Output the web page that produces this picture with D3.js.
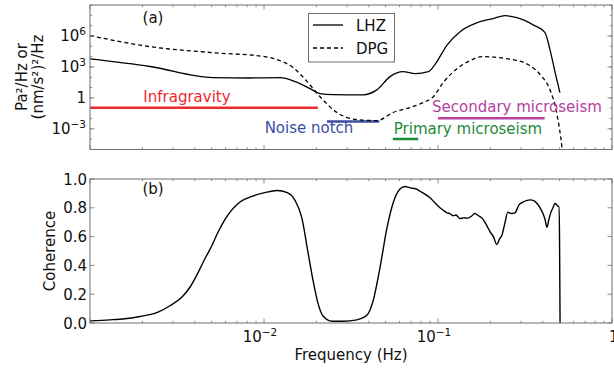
<!DOCTYPE html>
<html>
<head>
<meta charset="utf-8">
<script src="https://cdn.jsdelivr.net/npm/d3@7/dist/d3.min.js"></script>
<style>
  html, body { margin: 0; padding: 0; background: #fff; }
  svg { display: block; font-family: "DejaVu Sans", sans-serif; }
</style>
</head>
<body>
<svg id="chart" width="614" height="368"></svg>
<script>
// Power spectral densities (frequency in Hz, PSD in Pa^2/Hz or (nm/s^2)^2/Hz)
const lhzFreq = [0.001, 0.00221, 0.00509, 0.0083, 0.0124, 0.0151, 0.0184, 0.021, 0.025, 0.0371, 0.0447, 0.053, 0.063, 0.074, 0.088, 0.096, 0.113, 0.134, 0.168, 0.207, 0.243, 0.284, 0.352, 0.412, 0.44, 0.477, 0.502];
const lhzPsd  = [6.0e3, 1.1e3, 93, 85, 93, 38, 8, 2.6, 2.1, 1.95, 6.3, 115, 350, 225, 350, 1.7e3, 1.4e5, 2.6e6, 1.9e7, 4.8e7, 9.3e7, 5.9e7, 1.2e7, 2.1e6, 4.8e4, 115, 3.3];

const dpgFreq = [0.001, 0.00221, 0.00509, 0.0101, 0.0119, 0.0147, 0.0177, 0.021, 0.0263, 0.0342, 0.0447, 0.055, 0.069, 0.082, 0.094, 0.107, 0.129, 0.153, 0.179, 0.249, 0.329, 0.391, 0.44, 0.483, 0.516, 0.53];
const dpgPsd  = [1.07e6, 9.3e4, 2.4e4, 1.0e4, 5.1e3, 860, 38, 1.3, 0.038, 7.9e-3, 6.3e-3, 0.038, 0.115, 0.35, 1.3, 30, 690, 4.1e3, 1.0e4, 6.3e3, 1.7e3, 144, 6.3, 0.025, 1.3e-5, 1e-7];

// Coherence between LHZ and DPG
const cohFreq = [0.001, 0.0013, 0.00159, 0.00194, 0.00246, 0.00288, 0.00338, 0.00376, 0.00418, 0.00459, 0.00503, 0.00544, 0.00597, 0.0071, 0.00854, 0.0101, 0.0119, 0.0136, 0.0151, 0.0165, 0.0179, 0.0191, 0.0204, 0.0218, 0.0246, 0.0285, 0.0342, 0.0391, 0.0423, 0.0465, 0.0509, 0.0551, 0.0605, 0.0646, 0.0685, 0.0718, 0.0755, 0.0788, 0.084, 0.09, 0.096, 0.1026, 0.108, 0.1127, 0.117, 0.122, 0.127, 0.1337, 0.14, 0.147, 0.155, 0.163, 0.171, 0.1815, 0.19, 0.199, 0.208, 0.218, 0.225, 0.233, 0.242, 0.252, 0.264, 0.277, 0.292, 0.308, 0.322, 0.338, 0.355, 0.371, 0.386, 0.401, 0.412, 0.423, 0.434, 0.446, 0.458, 0.47, 0.482, 0.49, 0.497, 0.5, 0.503];
const cohVal  = [0.015, 0.022, 0.03, 0.045, 0.075, 0.12, 0.18, 0.25, 0.35, 0.45, 0.54, 0.63, 0.72, 0.83, 0.88, 0.905, 0.92, 0.905, 0.85, 0.73, 0.49, 0.30, 0.14, 0.05, 0.012, 0.012, 0.022, 0.055, 0.15, 0.39, 0.66, 0.83, 0.93, 0.948, 0.94, 0.935, 0.93, 0.915, 0.895, 0.87, 0.835, 0.80, 0.78, 0.765, 0.76, 0.745, 0.75, 0.725, 0.73, 0.728, 0.74, 0.76, 0.745, 0.72, 0.68, 0.635, 0.60, 0.545, 0.58, 0.61, 0.69, 0.77, 0.76, 0.765, 0.82, 0.84, 0.85, 0.855, 0.85, 0.83, 0.8, 0.76, 0.72, 0.665, 0.72, 0.77, 0.8, 0.83, 0.82, 0.81, 0.81, 0.50, 0.0];

// Frequency bands: [label, fmin, fmax, level, colour]
const bandNames  = ["Infragravity", "Noise notch", "Primary microseism", "Secondary microseism"];
const bandFmin   = [0.001, 0.023, 0.055, 0.1];
const bandFmax   = [0.0204, 0.046, 0.077, 0.41];
const bandLevel  = [0.11, 5.2e-3, 1.05e-4, 0.0105];
const bandColors = ["#ee2a2f", "#3b4ea6", "#1f8a3a", "#b3429e"];

const xTickLabels = ["−2", "−1", "0"];
const yTopLabels  = [["10", "−3"], ["1", ""], ["10", "3"], ["10", "6"]];
const yBotLabels  = ["0.0", "0.2", "0.4", "0.6", "0.8", "1.0"];

const svg = d3.select("#chart");
const L = 90, R = 612;
const topP = { t: 5, b: 149.5 };
const botP = { t: 179, b: 323 };
const frameColor = "#6e6e6e";
const fs = 15;

const x = d3.scaleLog().domain([1e-3, 1]).range([L, R]);
const yTop = d3.scaleLog().domain([1e-5, 1e9]).range([topP.b, topP.t]);
const yBot = d3.scaleLinear().domain([0, 1]).range([botP.b, botP.t]);

const defs = svg.append("defs");
defs.append("clipPath").attr("id", "clipTop").append("rect")
  .attr("x", L).attr("y", topP.t).attr("width", R - L).attr("height", topP.b - topP.t);
defs.append("clipPath").attr("id", "clipBot").append("rect")
  .attr("x", L).attr("y", botP.t).attr("width", R - L).attr("height", botP.b - botP.t);

// Inward ticks on all four sides, matplotlib-classic style
function freqTicks(g, p) {
  const major = [1e-3, 1e-2, 1e-1, 1];
  const minor = [];
  for (const d of [1e-3, 1e-2, 1e-1]) for (let k = 2; k <= 9; k++) minor.push(d * k);
  const tg = g.append("g").attr("stroke", frameColor).attr("stroke-width", 0.8);
  major.forEach(v => {
    const px = x(v);
    tg.append("line").attr("x1", px).attr("x2", px).attr("y1", p.b).attr("y2", p.b - 4.5);
    tg.append("line").attr("x1", px).attr("x2", px).attr("y1", p.t).attr("y2", p.t + 4.5);
  });
  minor.forEach(v => {
    const px = x(v);
    tg.append("line").attr("x1", px).attr("x2", px).attr("y1", p.b).attr("y2", p.b - 2.2);
    tg.append("line").attr("x1", px).attr("x2", px).attr("y1", p.t).attr("y2", p.t + 2.2);
  });
}
function yTicks(g, scale, values, len) {
  const tg = g.append("g").attr("stroke", frameColor).attr("stroke-width", 0.8);
  values.forEach(v => {
    const py = scale(v);
    tg.append("line").attr("x1", L).attr("x2", L + len).attr("y1", py).attr("y2", py);
    tg.append("line").attr("x1", R).attr("x2", R - len).attr("y1", py).attr("y2", py);
  });
}
function frame(p) {
  svg.append("rect").attr("x", L).attr("y", p.t).attr("width", R - L).attr("height", p.b - p.t)
    .attr("fill", "none").attr("stroke", frameColor).attr("stroke-width", 1);
}
function powerLabel(g, xp, yp, base, exp, anchor) {
  const t = g.append("text").attr("x", xp).attr("y", yp).attr("text-anchor", anchor)
    .attr("font-size", fs).attr("fill", "#111");
  t.append("tspan").text(base);
  if (exp) t.append("tspan").attr("dy", -6).attr("font-size", 10.5).text(exp);
  return t;
}

// ---------- panel (a): PSDs ----------
const gTop = svg.append("g");
const lineTop = d3.line().x(d => x(d[0])).y(d => yTop(d[1])).curve(d3.curveMonotoneX);

const bands = gTop.append("g");
bandNames.forEach((name, i) => {
  bands.append("line")
    .attr("x1", x(bandFmin[i])).attr("x2", x(bandFmax[i]))
    .attr("y1", yTop(bandLevel[i])).attr("y2", yTop(bandLevel[i]))
    .attr("stroke", bandColors[i]).attr("stroke-width", 2.6)
    .attr("clip-path", "url(#clipTop)");
});

gTop.append("path").datum(d3.zip(dpgFreq, dpgPsd))
  .attr("d", lineTop).attr("fill", "none").attr("stroke", "#000")
  .attr("stroke-width", 1.3).attr("stroke-dasharray", "4,3")
  .attr("clip-path", "url(#clipTop)");
gTop.append("path").datum(d3.zip(lhzFreq, lhzPsd))
  .attr("d", lineTop).attr("fill", "none").attr("stroke", "#000")
  .attr("stroke-width", 1.3).attr("clip-path", "url(#clipTop)");

// band labels
const bandText = [
  { x: 187, y: 101.5 },
  { x: 309, y: 133 },
  { x: 468, y: 133.5 },
  { x: 517, y: 112 }
];
bandNames.forEach((name, i) => {
  gTop.append("text").attr("x", bandText[i].x).attr("y", bandText[i].y)
    .attr("text-anchor", "middle").attr("font-size", fs)
    .attr("fill", bandColors[i]).text(name);
});

frame(topP);
freqTicks(gTop, topP);
const decades = d3.range(-5, 10).map(e => Math.pow(10, e));
yTicks(gTop, yTop, decades, 2.2);
yTicks(gTop, yTop, [1e-3, 1, 1e3, 1e6], 4.5);

[1e-3, 1, 1e3, 1e6].forEach((v, i) => {
  powerLabel(gTop, 86, yTop(v) + 5.5, yTopLabels[i][0], yTopLabels[i][1], "end");
});

gTop.append("text").attr("x", 153).attr("y", 22.5).attr("text-anchor", "middle")
  .attr("font-size", fs).attr("fill", "#111").text("(a)");

// legend
const lg = gTop.append("g");
lg.append("rect").attr("x", 308.5).attr("y", 13.5).attr("width", 86).attr("height", 48.5)
  .attr("fill", "#fff").attr("stroke", frameColor).attr("stroke-width", 1);
lg.append("line").attr("x1", 313).attr("x2", 343).attr("y1", 25).attr("y2", 25)
  .attr("stroke", "#000").attr("stroke-width", 1.3);
lg.append("line").attr("x1", 313).attr("x2", 343).attr("y1", 48).attr("y2", 48)
  .attr("stroke", "#000").attr("stroke-width", 1.3).attr("stroke-dasharray", "4,3");
lg.append("text").attr("x", 356).attr("y", 30.5).attr("font-size", fs).attr("fill", "#111").text("LHZ");
lg.append("text").attr("x", 356).attr("y", 53.5).attr("font-size", fs).attr("fill", "#111").text("DPG");

// y label, two lines
const yl = gTop.append("g").attr("transform", "translate(0,77) rotate(-90)");
yl.append("text").attr("x", 0).attr("y", 27).attr("text-anchor", "middle")
  .attr("font-size", fs).attr("fill", "#111").text("Pa²/Hz or");
yl.append("text").attr("x", 0).attr("y", 43).attr("text-anchor", "middle")
  .attr("font-size", fs).attr("fill", "#111").text("(nm/s²)²/Hz");

// ---------- panel (b): coherence ----------
const gBot = svg.append("g");
const lineBot = d3.line().x(d => x(d[0])).y(d => yBot(d[1])).curve(d3.curveMonotoneX);
gBot.append("path").datum(d3.zip(cohFreq, cohVal))
  .attr("d", lineBot).attr("fill", "none").attr("stroke", "#000")
  .attr("stroke-width", 1.4).attr("stroke-linejoin", "round")
  .attr("clip-path", "url(#clipBot)");

frame(botP);
freqTicks(gBot, botP);
const cohTicks = [0, 0.2, 0.4, 0.6, 0.8, 1.0];
yTicks(gBot, yBot, cohTicks, 4.5);
cohTicks.forEach((v, i) => {
  gBot.append("text").attr("x", 87).attr("y", yBot(v) + 5.5).attr("text-anchor", "end")
    .attr("font-size", fs).attr("fill", "#111").text(yBotLabels[i]);
});
// frequency tick labels; the last one sits on the right edge of the figure
[1e-2, 1e-1].forEach((v, i) => {
  powerLabel(gBot, x(v) - 4, 342, "10", xTickLabels[i], "middle");
});
powerLabel(gBot, x(1) - 3, 342, "10", xTickLabels[2], "start");

gBot.append("text").attr("x", 153).attr("y", 194).attr("text-anchor", "middle")
  .attr("font-size", fs).attr("fill", "#111").text("(b)");

gBot.append("text").attr("x", 351).attr("y", 360).attr("text-anchor", "middle")
  .attr("font-size", fs).attr("fill", "#111").text("Frequency (Hz)");

gBot.append("text").attr("transform", `translate(55,${(botP.t + botP.b) / 2}) rotate(-90)`)
  .attr("text-anchor", "middle").attr("font-size", fs).attr("fill", "#111").text("Coherence");
</script>
</body>
</html>
